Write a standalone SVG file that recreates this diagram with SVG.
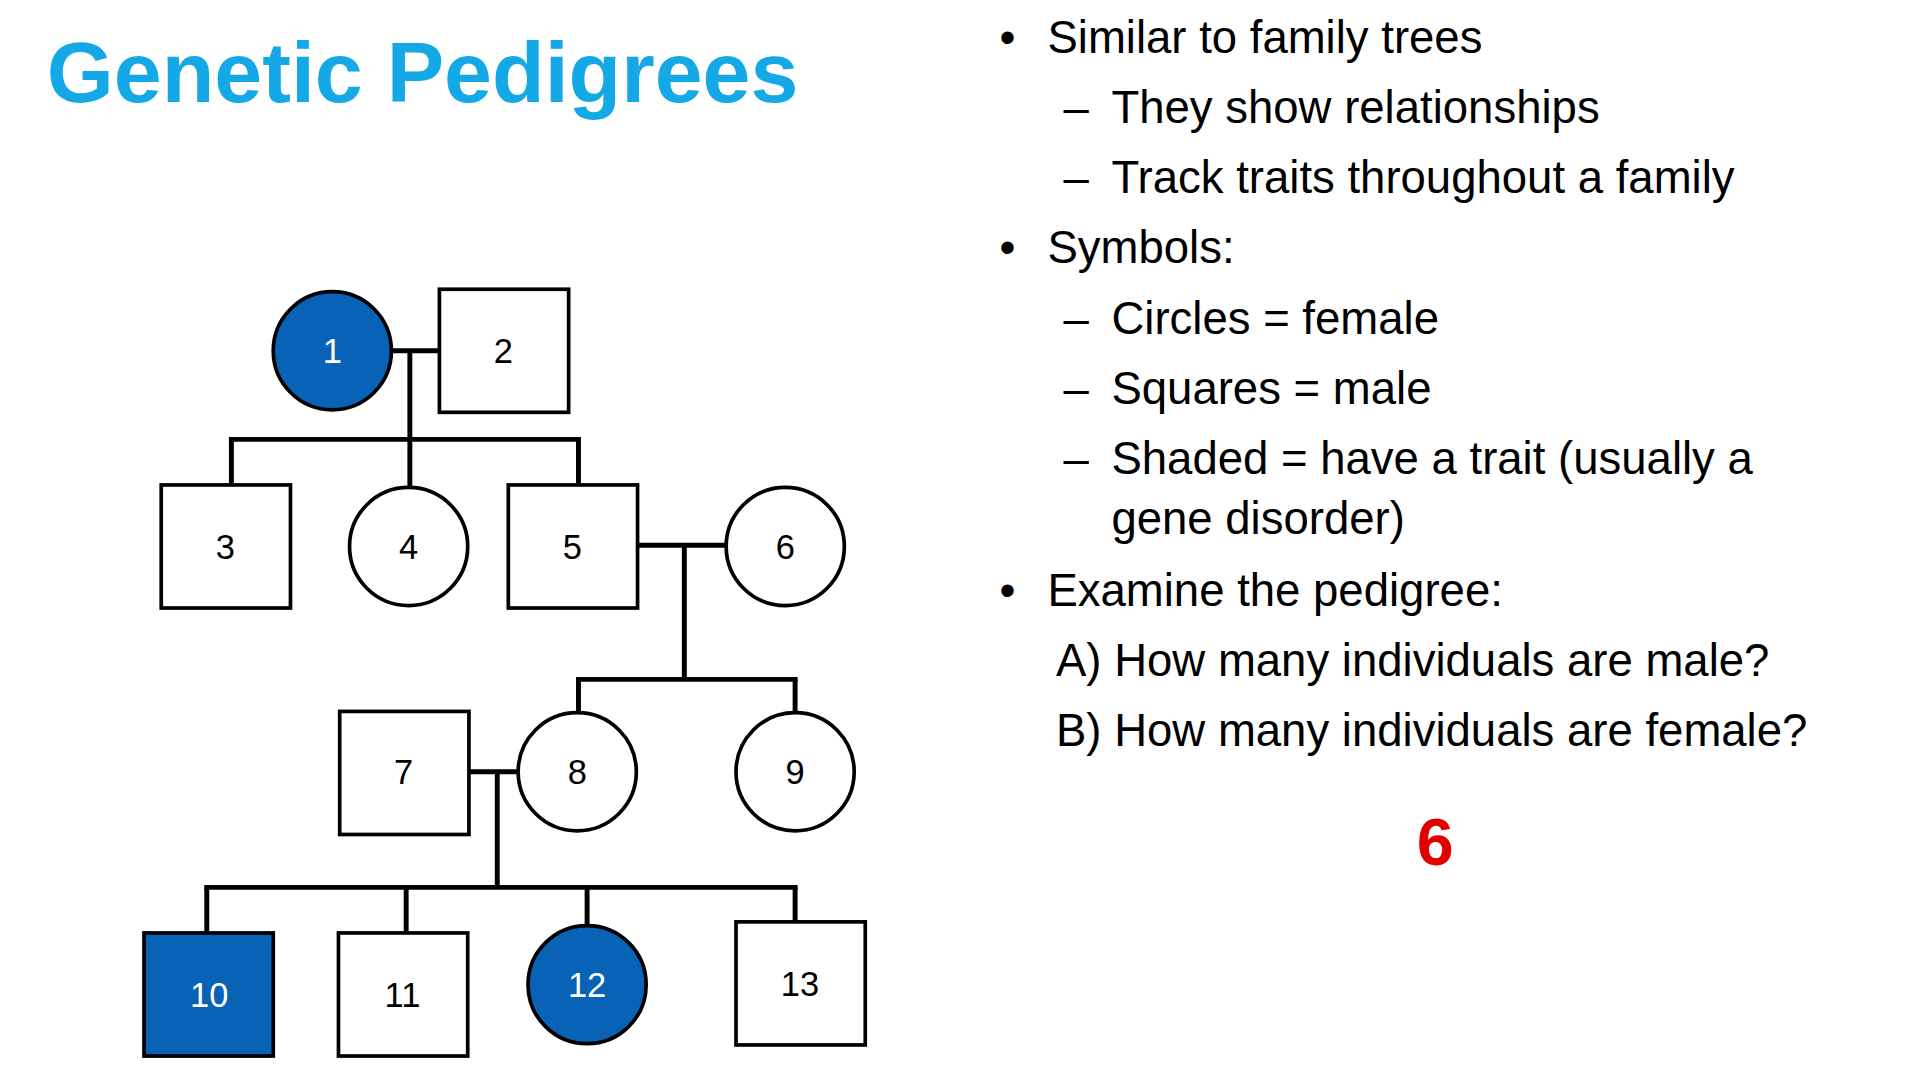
<svg xmlns="http://www.w3.org/2000/svg" width="1920" height="1080" viewBox="0 0 1920 1080">
<style>
.s{fill:#fff;stroke:#000;stroke-width:3}
.f{fill:#0862b6;stroke:#000;stroke-width:3}
.n{font-family:"Liberation Sans",Arial,sans-serif;font-size:28px;text-anchor:middle}
.w{fill:#fff}
.t{font-family:"Liberation Sans",Arial,sans-serif;font-size:37px;fill:#000}
#conn line{stroke:#000;stroke-width:4}
</style>
<rect width="1920" height="1080" fill="#fff"/>
<g transform="scale(1.2308)">
<text x="38" y="83" font-family="Liberation Sans,Arial,sans-serif" font-weight="bold" font-size="70" fill="#14a8e6">Genetic Pedigrees</text>
<g id="conn">
<line x1="318" y1="285" x2="357" y2="285"/><line x1="333" y1="285" x2="333" y2="357"/>
<line x1="186" y1="357" x2="472" y2="357"/>
<line x1="188" y1="357" x2="188" y2="394"/><line x1="333" y1="357" x2="333" y2="396"/><line x1="470" y1="357" x2="470" y2="394"/>
<line x1="518" y1="443" x2="590" y2="443"/><line x1="556" y1="443" x2="556" y2="552"/>
<line x1="468" y1="552" x2="648" y2="552"/>
<line x1="470" y1="552" x2="470" y2="579"/><line x1="646" y1="552" x2="646" y2="579"/>
<line x1="381" y1="627" x2="421" y2="627"/><line x1="404" y1="627" x2="404" y2="721"/>
<line x1="166" y1="721" x2="648" y2="721"/>
<line x1="168" y1="721" x2="168" y2="758"/><line x1="330" y1="721" x2="330" y2="758"/><line x1="477" y1="721" x2="477" y2="752"/><line x1="646" y1="721" x2="646" y2="749"/>
</g>
<g id="n1"><circle class="f" cx="270" cy="285" r="48"/><text class="n w" x="270" y="295">1</text></g>
<g id="n2"><rect class="s" x="357" y="235" width="105" height="100"/><text class="n" x="409" y="295">2</text></g>
<g id="n3"><rect class="s" x="131" y="394" width="105" height="100"/><text class="n" x="183" y="454">3</text></g>
<g id="n4"><circle class="s" cx="332" cy="444" r="48"/><text class="n" x="332" y="454">4</text></g>
<g id="n5"><rect class="s" x="413" y="394" width="105" height="100"/><text class="n" x="465" y="454">5</text></g>
<g id="n6"><circle class="s" cx="638" cy="444" r="48"/><text class="n" x="638" y="454">6</text></g>
<g id="n7"><rect class="s" x="276" y="578" width="105" height="100"/><text class="n" x="328" y="637">7</text></g>
<g id="n8"><circle class="s" cx="469" cy="627" r="48"/><text class="n" x="469" y="637">8</text></g>
<g id="n9"><circle class="s" cx="646" cy="627" r="48"/><text class="n" x="646" y="637">9</text></g>
<g id="n10"><rect class="f" x="117" y="758" width="105" height="100"/><text class="n w" x="170" y="818">10</text></g>
<g id="n11"><rect class="s" x="275" y="758" width="105" height="100"/><text class="n" x="327" y="818">11</text></g>
<g id="n12"><circle class="f" cx="477" cy="800" r="48"/><text class="n w" x="477" y="810">12</text></g>
<g id="n13"><rect class="s" x="598" y="749" width="105" height="100"/><text class="n" x="650" y="809">13</text></g>
<g class="t">
<text x="812" y="43">•</text><text x="851" y="43">Similar to family trees</text>
<text x="864" y="100">–</text><text x="903" y="100">They show relationships</text>
<text x="864" y="157">–</text><text x="903" y="157">Track traits throughout a family</text>
<text x="812" y="214">•</text><text x="851" y="214">Symbols:</text>
<text x="864" y="271">–</text><text x="903" y="271">Circles = female</text>
<text x="864" y="328">–</text><text x="903" y="328">Squares = male</text>
<text x="864" y="385">–</text><text x="903" y="385">Shaded = have a trait (usually a</text>
<text x="903" y="434">gene disorder)</text>
<text x="812" y="492">•</text><text x="851" y="492">Examine the pedigree:</text>
<text x="858" y="549">A) How many individuals are male?</text>
<text x="858" y="606">B) How many individuals are female?</text>
</g>
<text x="1166" y="703" text-anchor="middle" font-family="Liberation Sans,Arial,sans-serif" font-weight="bold" font-size="54" fill="#e00000">6</text>
</g>
</svg>
